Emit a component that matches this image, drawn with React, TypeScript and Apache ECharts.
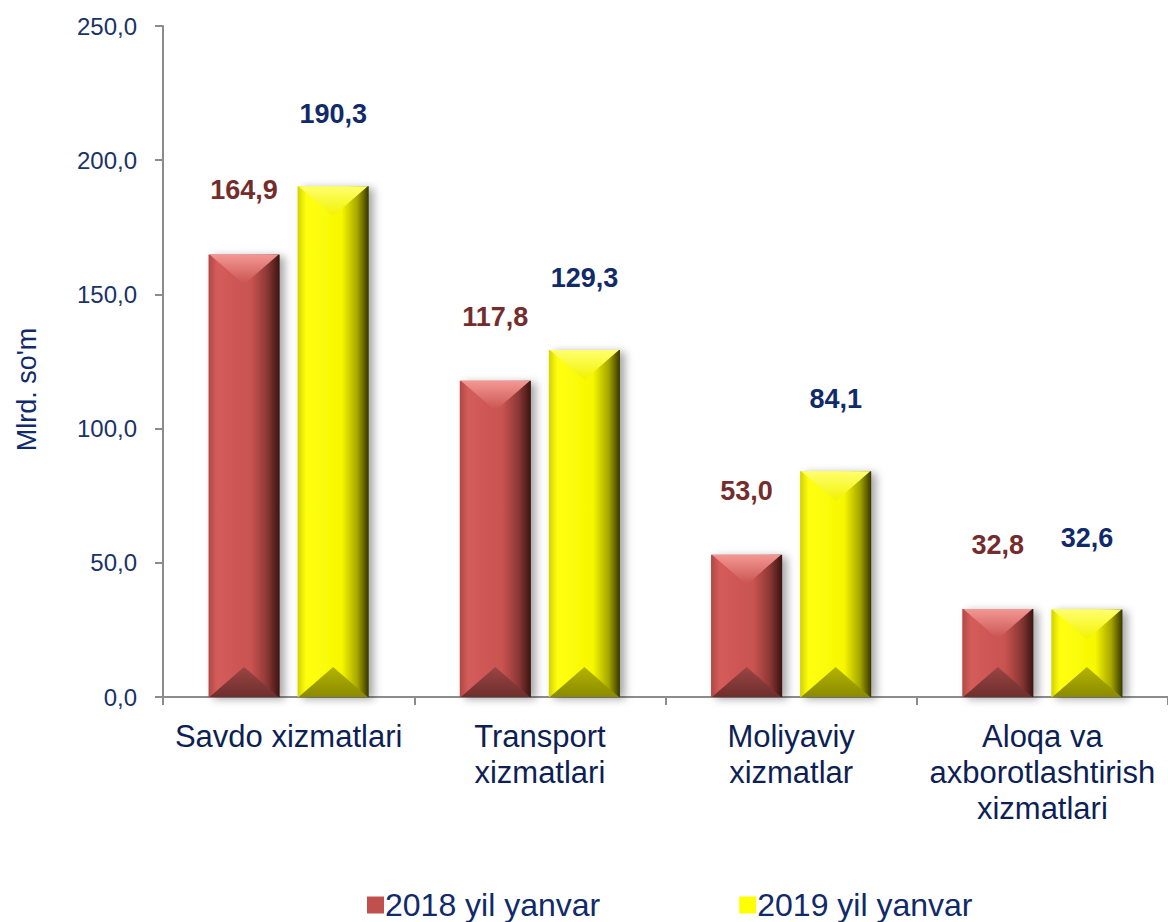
import React, { useEffect, useRef } from "react";
import * as echarts from "echarts";

const categories = [
  "Savdo xizmatlari",
  "Transport\nxizmatlari",
  "Moliyaviy\nxizmatlar",
  "Aloqa va\naxborotlashtirish\nxizmatlari",
];
const seriesNames = ["2018 yil yanvar", "2019 yil yanvar"];
const values2018 = [164.9, 117.8, 53.0, 32.8];
const values2019 = [190.3, 129.3, 84.1, 32.6];
const yTicks = [0, 50, 100, 150, 200, 250];

const FONT = '"Liberation Sans", Arial, sans-serif';
const fmt = (v: number) => v.toFixed(1).replace(".", ",");

const palettes = [
  {
    base: "#C0504D",
    side: [
      [0, "#b04846"],
      [0.12, "#d45c5a"],
      [0.6, "#c95350"],
      [0.82, "#8e3836"],
      [1, "#3a1512"],
    ],
    top: ["#f39894", "#c9524f"],
    bottom: ["#9a4644", "#6e2e2c"],
    label: "#742C2C",
    offset: 64,
  },
  {
    base: "#FFFF00",
    side: [
      [0, "#d2d200"],
      [0.12, "#ffff10"],
      [0.62, "#f7f700"],
      [0.84, "#a6a600"],
      [1, "#363600"],
    ],
    top: ["#ffff70", "#f2f200"],
    bottom: ["#b4b400", "#8a8a00"],
    label: "#102A6A",
    offset: 72,
  },
];

function makeRender(si: number) {
  const p = palettes[si];
  return (params: any, api: any) => {
    const idx = api.value(0);
    const val = api.value(1);
    const top = api.coord([idx, val]);
    const base = api.coord([idx, 0]);
    const band = api.size([1, 0])[0];
    const bw = band * 0.283;
    const gap = band * 0.0715;
    const x = si === 0 ? top[0] - gap / 2 - bw : top[0] + gap / 2;
    const y = top[1];
    const h = base[1] - top[1];
    const d = Math.min(30, h / 2);
    return {
      type: "group",
      children: [
        {
          type: "rect",
          shape: { x, y, width: bw, height: h },
          style: {
            fill: {
              type: "linear",
              x: 0,
              y: 0,
              x2: 1,
              y2: 0,
              colorStops: p.side.map((s: any) => ({ offset: s[0], color: s[1] })),
            },
            shadowBlur: 8,
            shadowOffsetX: 5,
            shadowOffsetY: 2,
            shadowColor: "rgba(0,0,0,0.35)",
          },
        },
        {
          type: "polygon",
          shape: { points: [[x + 1, y], [x + bw - 1, y], [x + bw / 2, y + d]] },
          style: {
            fill: {
              type: "linear",
              x: 0,
              y: 0,
              x2: 0,
              y2: 1,
              colorStops: [
                { offset: 0, color: p.top[0] },
                { offset: 1, color: p.top[1] },
              ],
            },
          },
        },
        {
          type: "polygon",
          shape: { points: [[x + 1, y + h], [x + bw - 1, y + h], [x + bw / 2, y + h - d]] },
          style: {
            fill: {
              type: "linear",
              x: 0,
              y: 1,
              x2: 0,
              y2: 0,
              colorStops: [
                { offset: 0, color: p.bottom[1] },
                { offset: 1, color: p.bottom[0] },
              ],
            },
          },
        },
        {
          type: "text",
          x: x + bw / 2,
          y: y - p.offset,
          style: {
            text: fmt(val),
            fill: p.label,
            font: `bold 27px ${FONT}`,
            align: "center",
            verticalAlign: "middle",
            textAlign: "center",
            textVerticalAlign: "middle",
          },
        },
      ],
    };
  };
}

export default function App() {
  const ref = useRef<HTMLDivElement>(null);
  useEffect(() => {
    if (!ref.current) return;
    const chart = echarts.init(ref.current, undefined, { renderer: "svg" });
    const allVals = [values2018, values2019];
    chart.setOption({
      animation: false,
      backgroundColor: "#ffffff",
      textStyle: { fontFamily: FONT },
      grid: { left: 163, right: 0, top: 26, bottom: 225, containLabel: false },
      legend: {
        left: 362,
        top: 884,
        itemGap: 139,
        itemWidth: 17,
        itemHeight: 17,
        icon: "rect",
        data: seriesNames,
        textStyle: { color: "#102A6A", fontSize: 32, fontFamily: FONT, padding: [0, 0, 0, -4] },
      },
      xAxis: {
        type: "category",
        data: categories,
        axisLine: { lineStyle: { color: "#8c8c8c", width: 2 } },
        axisTick: { show: true, length: 8, alignWithLabel: false, lineStyle: { color: "#8c8c8c", width: 2 } },
        axisLabel: {
          color: "#0E1F55",
          fontSize: 31,
          fontFamily: FONT,
          lineHeight: 36,
          margin: 21,
          interval: 0,
        },
      },
      yAxis: {
        type: "value",
        min: 0,
        max: 250,
        interval: 50,
        name: "Mlrd. so'm",
        nameLocation: "middle",
        nameGap: 123,
        nameTextStyle: { color: "#102A6A", fontSize: 27, fontFamily: FONT, padding: [0, 56, 0, 0] },
        axisLine: { show: true, lineStyle: { color: "#8c8c8c", width: 2 } },
        axisTick: { show: true, length: 8, lineStyle: { color: "#8c8c8c", width: 2 } },
        splitLine: { show: false },
        axisLabel: {
          color: "#1A3266",
          fontSize: 24,
          fontFamily: FONT,
          margin: 26,
          formatter: (v: number) => (yTicks.includes(v) ? fmt(v) : ""),
        },
      },
      series: [0, 1].map((si) => ({
        name: seriesNames[si],
        type: "custom",
        itemStyle: { color: palettes[si].base },
        encode: { x: 0, y: 1 },
        data: allVals[si].map((v, i) => [i, v]),
        renderItem: makeRender(si),
        clip: false,
      })),
    });
    return () => chart.dispose();
  }, []);
  return (
    <div
      ref={ref}
      style={{ position: "fixed", left: 0, top: 0, width: 1168, height: 922 }}
    />
  );
}
